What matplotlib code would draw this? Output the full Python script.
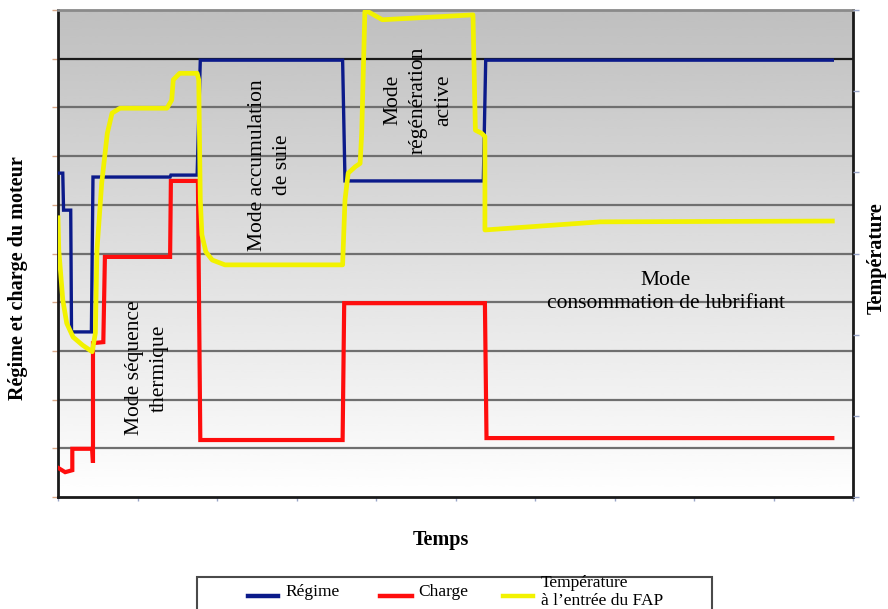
import numpy as np
import matplotlib
matplotlib.use("Agg")
import matplotlib.pyplot as plt
from matplotlib.lines import Line2D
from matplotlib.patches import Rectangle

plt.rcParams['font.family'] = ['Liberation Serif', 'DejaVu Serif']

# ---- data (time in arbitrary units 0..10) ----
t_regime = [0, 0.06, 0.07, 0.16, 0.17, 0.42, 0.44, 1.41, 1.42, 1.75, 1.79,
            3.58, 3.61, 5.35, 5.38, 9.74]
regime = [6.65, 6.65, 5.89, 5.89, 3.39, 3.39, 6.57, 6.57, 6.61, 6.61, 8.97,
          8.97, 6.49, 6.49, 8.97, 8.97]

t_charge = [0, 0.09, 0.18, 0.18, 0.43, 0.44, 0.44, 0.57, 0.59, 1.41, 1.42,
            1.76, 1.79, 3.58, 3.60, 5.37, 5.39, 9.74]
charge = [0.60, 0.51, 0.55, 0.99, 0.99, 0.70, 3.16, 3.18, 4.93, 4.93, 6.49,
          6.49, 1.17, 1.17, 3.98, 3.98, 1.21, 1.21]

t_temp = [0, 0.01, 0.03, 0.06, 0.11, 0.19, 0.31, 0.43, 0.47, 0.49, 0.55, 0.62,
          0.68, 0.78, 1.37, 1.43, 1.45, 1.53, 1.75, 1.77, 1.79, 1.81, 1.86,
          1.94, 2.10, 3.58, 3.61, 3.65, 3.74, 3.80, 3.82, 3.86, 3.90, 4.08,
          5.22, 5.25, 5.33, 5.37, 5.37, 6.82, 9.74]
temp = [3.44, 3.04, 2.80, 2.43, 2.14, 1.97, 1.87, 1.79, 2.02, 3.04, 3.87, 4.48,
        4.73, 4.79, 4.79, 4.89, 5.14, 5.22, 5.22, 5.14, 3.66, 3.23, 3.02,
        2.92, 2.86, 2.86, 3.66, 3.99, 4.07, 4.11, 4.48, 5.98, 5.98, 5.88,
        5.94, 4.52, 4.48, 4.44, 3.29, 3.39, 3.40]

series_names = ["Régime", "Charge", "Température\nà l\u2019entrée du FAP"]
series_colors = ["#0b1a8a", "#ff0d0d", "#f2f200"]

modes = ["Mode séquence\nthermique", "Mode accumulation\nde suie",
         "Mode\nrégénération\nactive", "Mode\nconsommation de lubrifiant"]

# ---- figure ----
W, H = 888, 609
fig = plt.figure(figsize=(W / 100, H / 100), dpi=100)
ax = fig.add_axes([58 / W, 1 - 497 / H, 795 / W, 487 / H])

# gradient background
grad = np.linspace(1.0, 0.75, 256).reshape(-1, 1)
ax.imshow(grad, extent=[0, 10, 10, 0], aspect='auto', cmap='gray',
          vmin=0, vmax=1, zorder=0, interpolation='bicubic')
ax.invert_yaxis()
ax.set_xlim(0, 10)
ax.set_ylim(0, 10)

ax.set_yticks(range(0, 11))
ax.set_xticks(range(0, 11))
ax.set_yticklabels([])
ax.set_xticklabels([])
for yv in range(1, 10):
    ax.axhline(yv, color='#1a1a1a' if yv == 9 else '#6f6f6f', lw=1.6, zorder=1)
ax.tick_params(axis='y', length=4, width=1, color='#d9a98a', direction='out')
ax.tick_params(axis='x', length=3, width=1, color='#9aa6c8', direction='out')

for s in ['left', 'bottom']:
    ax.spines[s].set_color('#1a1a1a')
    ax.spines[s].set_linewidth(2)
ax.spines['top'].set_color('#8a8a8a')
ax.spines['top'].set_linewidth(2)
ax.spines['right'].set_color('#1a1a1a')
ax.spines['right'].set_linewidth(2)

ax.plot(t_charge, charge, color=series_colors[1], lw=3.0, zorder=3,
        solid_joinstyle='miter')
ax.plot(t_regime, regime, color=series_colors[0], lw=2.4, zorder=4,
        solid_joinstyle='miter')

ax2 = ax.twinx()
ax2.set_ylim(0, 6)
ax2.set_yticks(range(0, 7))
ax2.set_yticklabels([])
ax2.tick_params(axis='y', length=4, width=1, color='#9aa6c8', direction='out')
for s in ax2.spines.values():
    s.set_visible(False)
ax2.plot(t_temp, temp, color=series_colors[2], lw=3.4, zorder=5,
         solid_joinstyle='round')

# mode annotations
def axfrac(px, py):
    return ((px - 58) / 795, (497 - py) / 487)

fs = 15.5
for (px, py), txt, rot in zip([(147, 368), (270, 165), (418, 100), (666, 292)],
                              modes, [90, 90, 90, 0]):
    x, y = axfrac(px, py)
    ax.text(x, y, txt, transform=ax.transAxes, rotation=rot, ha='center',
            va='center', multialignment='center', fontsize=fs, zorder=6,
            linespacing=1.45 if rot else 1.35)

# axis labels
fig.text(18 / W, 1 - 278 / H, "Régime et charge du moteur", rotation=90,
         ha='center', va='center', fontsize=14.5, fontweight='bold')
fig.text(877 / W, 1 - 258 / H, "Température", rotation=90,
         ha='center', va='center', fontsize=14.5, fontweight='bold')
fig.text(441 / W, 1 - 540 / H, "Temps", ha='center', va='center',
         fontsize=14.5, fontweight='bold')

# legend box (manual, extends past bottom edge like the reference)
def fx(px):
    return px / W

def fy(py):
    return 1 - py / H

box = Rectangle((fx(197), fy(625)), fx(712) - fx(197), fy(577) - fy(625),
                transform=fig.transFigure, facecolor='white',
                edgecolor='#4a4a4a', lw=1.5, clip_on=False)
fig.patches.append(box)
leg_x = [(248, 278, 285), (380, 412, 418), (503, 533, 541)]
for (x0, x1, xt), name, col in zip(leg_x, series_names, series_colors):
    fig.lines.append(Line2D([fx(x0), fx(x1)], [fy(596), fy(596)],
                            transform=fig.transFigure, color=col, lw=3.2))
    fig.text(fx(xt), fy(592), name, ha='left', va='center', fontsize=12.5,
             linespacing=1.15)

fig.savefig("out.png", dpi=100)
